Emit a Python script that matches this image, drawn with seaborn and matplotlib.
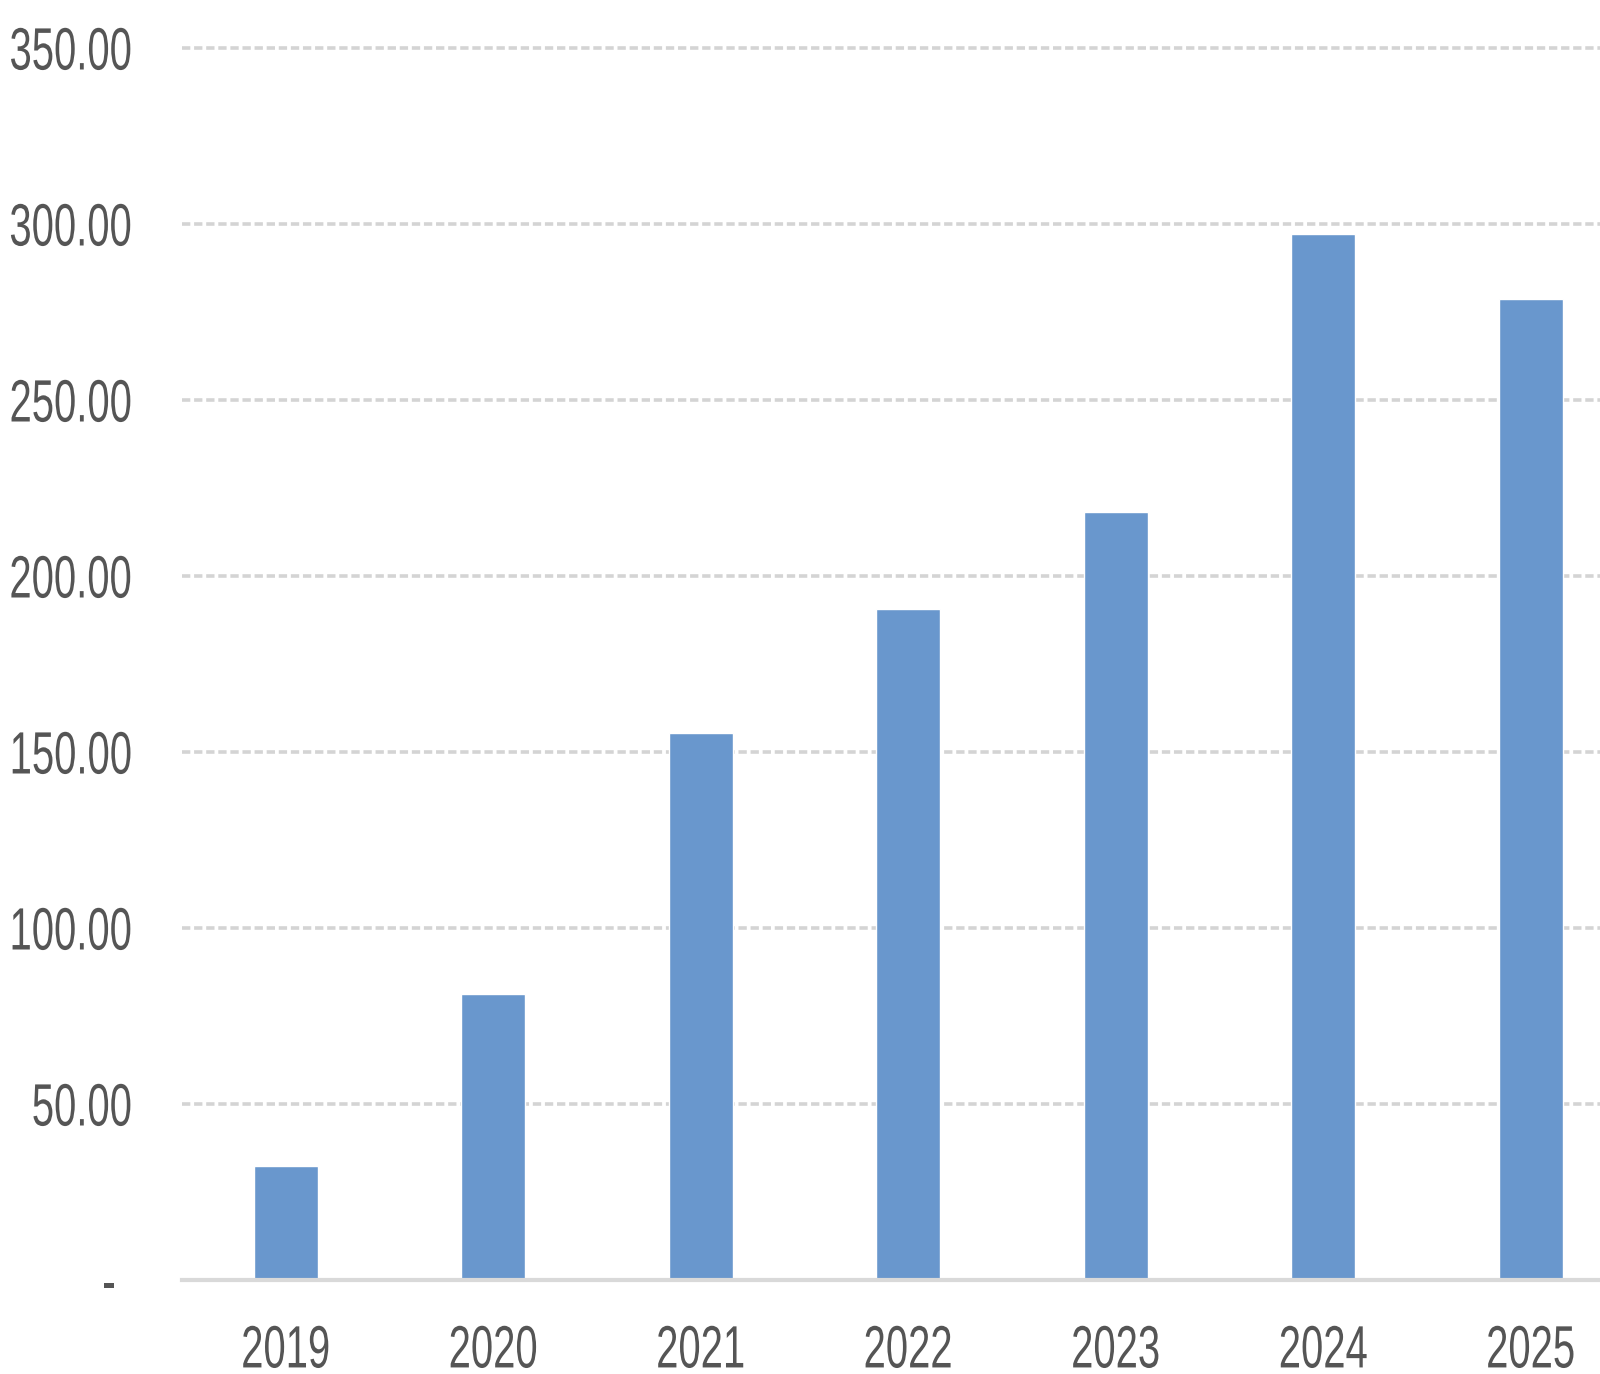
import matplotlib
matplotlib.use("Agg")
import matplotlib.pyplot as plt
import seaborn as sns
import pandas as pd
from matplotlib.patheffects import AbstractPathEffect
from matplotlib.transforms import Affine2D

years = ["2019", "2020", "2021", "2022", "2023", "2024", "2025"]
values = [32.5, 81.3, 155.3, 190.7, 218.3, 297.2, 278.8]
yticks = [0, 50, 100, 150, 200, 250, 300, 350]
ytick_labels = ["- ", "50.00", "100.00", "150.00", "200.00", "250.00", "300.00", "350.00"]


class HScale(AbstractPathEffect):
    """Draw text compressed horizontally (narrow font look)."""
    def __init__(self, sx, anchor="right"):
        super().__init__()
        self.sx = sx
        self.anchor = anchor

    def draw_path(self, renderer, gc, tpath, affine, rgbFace=None):
        ext = tpath.get_extents(affine)
        if self.anchor == "right":
            px = ext.x1
        else:
            px = 0.5 * (ext.x0 + ext.x1)
        new_aff = affine + Affine2D().translate(-px, 0).scale(self.sx, 1).translate(px, 0)
        renderer.draw_path(gc, tpath, new_aff, rgbFace)


sns.set_theme(style="white")
plt.rcParams["font.family"] = ["Liberation Sans", "DejaVu Sans"]

df = pd.DataFrame({"year": years, "value": values})

fig = plt.figure(figsize=(16, 13.74), dpi=100)
bottom = 1 - 1280 / 1374
top = 1 - 48 / 1374
left = 182 / 1600
ax = fig.add_axes([left, bottom, 1 - left, top - bottom])

sns.barplot(data=df, x="year", y="value", color="#6997cd", saturation=1,
            width=0.31, ax=ax, zorder=3)

ax.set_ylim(0, 350)
ax.set_xlim(-0.5, 6.334)
ax.set_yticks(yticks)
ax.set_yticklabels(ytick_labels)
ax.set_xlabel("")
ax.set_ylabel("")

for v in yticks[1:]:
    ax.axhline(v, color="#d4d4d4", lw=2.6, linestyle=(0, (2.3, 1.05)), zorder=1, clip_on=False)

for s in ["top", "right", "left"]:
    ax.spines[s].set_visible(False)
ax.spines["bottom"].set_color("#d9d9d9")
ax.spines["bottom"].set_linewidth(3)
ax.spines["bottom"].set_zorder(4)

ax.tick_params(axis="y", length=0, pad=35, labelsize=43, labelcolor="#555555")
ax.tick_params(axis="x", length=0, pad=32, labelsize=43, labelcolor="#555555")

for lbl in ax.get_yticklabels():
    lbl.set_path_effects([HScale(0.67, "right")])
for lbl in ax.get_xticklabels():
    lbl.set_path_effects([HScale(0.67, "center")])

fig.savefig("out.png", dpi=100, facecolor="white")
